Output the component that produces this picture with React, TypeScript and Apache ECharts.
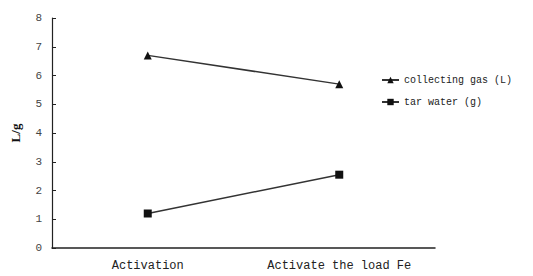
import React, { useEffect, useRef } from "react";
import * as echarts from "echarts";

const categories = ["Activation", "Activate the load Fe"];
const gasValues = [6.7, 5.7];
const tarValues = [1.2, 2.55];
const seriesNames = ["collecting gas (L)", "tar water (g)"];
const yAxisName = "L/g";

export default function App() {
  const ref = useRef<HTMLDivElement>(null);
  useEffect(() => {
    if (!ref.current) return;
    const chart = echarts.init(ref.current, null, { renderer: "svg" });
    const mono = "Liberation Mono";
    chart.setOption({
      animation: false,
      backgroundColor: "#ffffff",
      grid: { left: 52, right: 98, top: 18, bottom: 28, containLabel: false },
      legend: {
        orient: "vertical",
        left: 376,
        top: 70,
        itemWidth: 17,
        itemHeight: 8,
        itemGap: 12,
        textStyle: { fontFamily: mono, fontSize: 10, color: "#222" },
        data: seriesNames,
      },
      xAxis: {
        type: "category",
        data: categories,
        boundaryGap: true,
        axisLine: { lineStyle: { color: "#222", width: 1.5 } },
        axisTick: { inside: true, length: 5, lineStyle: { color: "#222" } },
        axisLabel: { fontFamily: mono, fontSize: 12, color: "#222", margin: 12 },
      },
      yAxis: {
        type: "value",
        min: 0,
        max: 8,
        interval: 1,
        name: yAxisName,
        nameLocation: "middle",
        nameGap: 30,
        nameTextStyle: {
          fontFamily: "Liberation Serif",
          fontWeight: "bold",
          fontSize: 13,
          color: "#111",
        },
        splitLine: { show: false },
        axisLine: { show: true, lineStyle: { color: "#222", width: 1.2 } },
        axisTick: { show: true, inside: true, length: 4, lineStyle: { color: "#222" } },
        axisLabel: { fontFamily: mono, fontSize: 11, color: "#444", margin: 10 },
      },
      series: [
        {
          name: seriesNames[0],
          type: "line",
          data: gasValues,
          symbol: "triangle",
          symbolSize: 8,
          itemStyle: { color: "#111" },
          lineStyle: { color: "#333", width: 1.5 },
        },
        {
          name: seriesNames[1],
          type: "line",
          data: tarValues,
          symbol: "rect",
          symbolSize: 8,
          itemStyle: { color: "#111" },
          lineStyle: { color: "#333", width: 1.5 },
        },
      ],
    });
    return () => chart.dispose();
  }, []);
  return <div ref={ref} style={{ width: 533, height: 276, position: "fixed", left: 0, top: 0 }} />;
}
